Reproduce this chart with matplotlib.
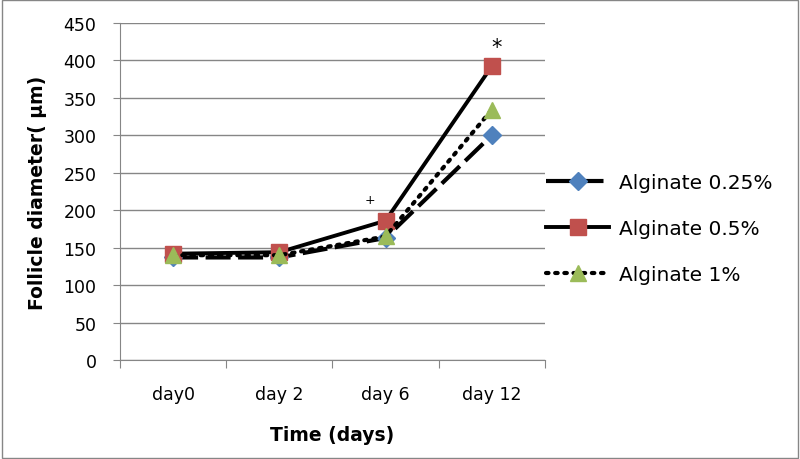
import matplotlib
matplotlib.use('Agg')
import matplotlib.pyplot as plt
from matplotlib.patches import Rectangle

# data
days = ['day0', 'day 2', 'day 6', 'day 12']
alg_025 = [137, 137, 163, 300]
alg_05 = [142, 144, 186, 392]
alg_1 = [140, 140, 165, 334]
yticks = [0, 50, 100, 150, 200, 250, 300, 350, 400, 450]

plt.rcParams['font.family'] = ['DejaVu Sans']

fig = plt.figure(figsize=(8, 4.6), dpi=100)
ax = fig.add_axes([0.15, 0.215, 0.531, 0.733])

x = range(len(days))
ax.plot(x, alg_025, color='black', lw=3, linestyle=(0, (6, 1.8)),
        marker='D', markersize=9, markerfacecolor='#4F81BD',
        markeredgecolor='#4F81BD', label='Alginate 0.25%', zorder=3)
ax.plot(x, alg_05, color='black', lw=2.8, linestyle='-',
        marker='s', markersize=12, markerfacecolor='#C0504D',
        markeredgecolor='#C0504D', label='Alginate 0.5%', zorder=4)
ax.plot(x, alg_1, color='black', lw=3, linestyle=(0, (0.6, 1.6)),
        dash_capstyle='round',
        marker='^', markersize=12, markerfacecolor='#9BBB59',
        markeredgecolor='#9BBB59', label='Alginate 1%', zorder=5)

# significance marks
ax.text(3.05, 418, '*', ha='center', va='center', fontsize=15)
ax.text(1.85, 215, '+', ha='center', va='center', fontsize=9)

ax.set_xlim(-0.5, 3.5)
ax.set_ylim(0, 450)
ax.set_yticks(yticks)
ax.yaxis.grid(True, color='#868686', lw=1)
ax.set_axisbelow(True)

ax.set_xticks([-0.5, 0.5, 1.5, 2.5, 3.5])
ax.set_xticklabels([])
ax.set_xticks(list(x), minor=True)
ax.set_xticklabels(days, minor=True, fontsize=12.5)
ax.tick_params(axis='x', which='major', direction='out', length=6,
               color='#868686')
ax.tick_params(axis='x', which='minor', length=0, pad=18)
ax.tick_params(axis='y', direction='out', length=5, color='#868686',
               labelsize=12.5, pad=12)

for s in ['top', 'right']:
    ax.spines[s].set_visible(False)
for s in ['left', 'bottom']:
    ax.spines[s].set_color('#868686')

ax.set_ylabel('Follicle diameter( µm)', fontsize=13.5, fontweight='bold',
              labelpad=12)
ax.set_xlabel('Time (days)', fontsize=13.5, fontweight='bold', labelpad=16)

ax.legend(loc='center left', bbox_to_anchor=(0.985, 0.39), frameon=False,
          fontsize=14.5, handlelength=3.1, labelspacing=1.35,
          handletextpad=0.5, borderaxespad=0)

# gray frame around the whole chart
fig.patches.append(Rectangle((0.002, 0.003), 0.995, 0.994,
                             transform=fig.transFigure, fill=False,
                             edgecolor='#868686', lw=1))

fig.savefig('out.png', dpi=100)
